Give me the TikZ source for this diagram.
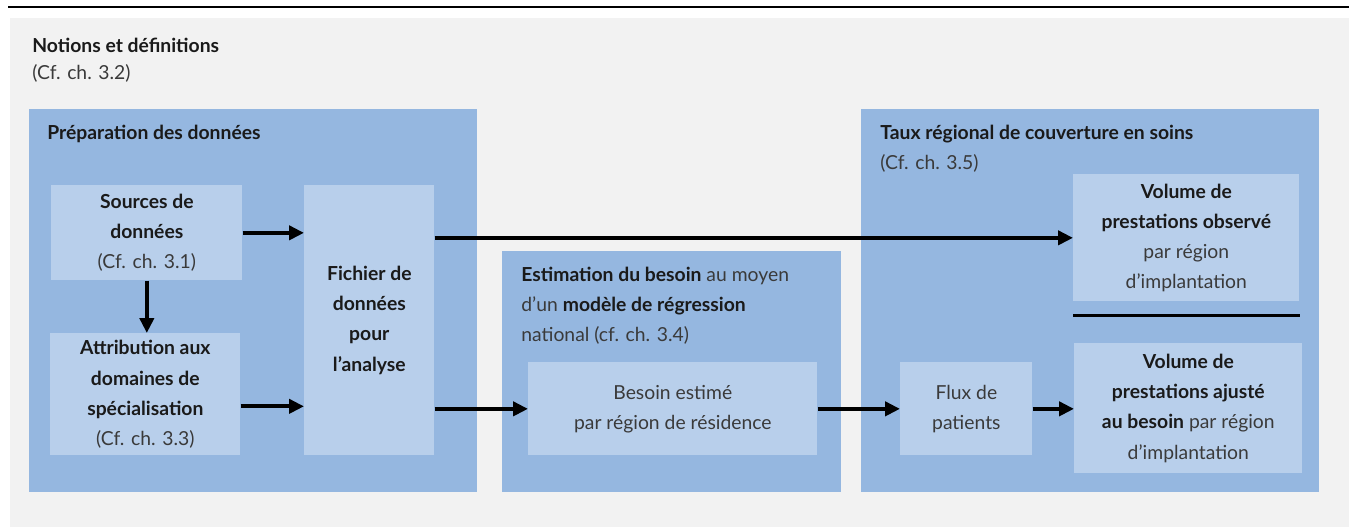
\documentclass[tikz,border=0pt]{standalone}
\usepackage{fontspec}
\setmainfont{Lato}
\usepackage{xcolor}
\usetikzlibrary{arrows.meta}

\definecolor{fondgris}{HTML}{F2F2F2}
\definecolor{bleufonce}{HTML}{95B7E0}
\definecolor{bleuclair}{HTML}{B8CFEB}
\definecolor{texte}{HTML}{1A1A1A}
\definecolor{texteleger}{HTML}{3A3A3A}

\tikzset{
  groupe/.style={fill=bleufonce, anchor=north west, inner sep=0pt},
  boite/.style={fill=bleuclair, anchor=north west, inner sep=2pt, align=center,
    text=texte, font=\fontsize{11}{17.2}\selectfont},
  titre/.style={anchor=west, inner sep=0pt, text=texte, align=left,
    font=\fontsize{11}{17.2}\selectfont},
  fleche/.style={line width=2.2pt, -{Triangle[length=8.5pt,width=8pt]}}
}

\newcommand{\leger}[1]{{\color{texteleger}#1}}

\begin{document}
\begin{tikzpicture}[x=0.02cm, y=-0.02cm]

  \useasboundingbox (0,0) rectangle (1349,527);

  % grey background and top rule
  \fill[fondgris] (10,18) rectangle (1349,527);
  \draw[line width=1.7pt] (8,7) -- (1349,7);

  % Notions et definitions
  \node[titre] (notions) at (32,45) {\textbf{Notions et définitions}};
  \node[titre] (notionsref) at (32,73) {\leger{(Cf. ch. 3.2)}};

  % the three groups
  \node[groupe, minimum width=8.96cm, minimum height=7.66cm] (prep) at (29,109) {};
  \node[groupe, minimum width=6.78cm, minimum height=4.82cm] (estim) at (502,251) {};
  \node[groupe, minimum width=9.16cm, minimum height=7.66cm] (taux) at (861,109) {};

  \node[titre] (preptitre) at (47,134) {\textbf{Préparation des données}};
  \node[titre] (estimtitre) at (521,306) {\textbf{Estimation du besoin} \leger{au moyen}\\
    \leger{d’un} \textbf{modèle de régression}\\ \leger{national (cf. ch. 3.4)}};
  \node[titre] (tauxtitre) at (880,134) {\textbf{Taux régional de couverture en soins}};
  \node[titre] (tauxref) at (880,163) {\leger{(Cf. ch. 3.5)}};

  % boxes
  \node[boite, minimum width=3.82cm, minimum height=1.9cm] (sources) at (51,185)
    {\textbf{Sources de}\\ \textbf{données}\\ \leger{(Cf. ch. 3.1)}};
  \node[boite, minimum width=3.8cm, minimum height=2.44cm] (attrib) at (50,333)
    {\textbf{Attribution aux}\\ \textbf{domaines de}\\ \textbf{spécialisation}\\ \leger{(Cf. ch. 3.3)}};
  \node[boite, minimum width=2.6cm, minimum height=5.4cm] (fichier) at (304,185)
    {\textbf{Fichier de}\\ \textbf{données}\\ \textbf{pour}\\ \textbf{l’analyse}};
  \node[boite, minimum width=5.78cm, minimum height=1.86cm] (besoin) at (528,362)
    {\leger{Besoin estimé}\\ \leger{par région de résidence}};
  \node[boite, minimum width=2.64cm, minimum height=1.86cm] (flux) at (900,362)
    {\leger{Flux de}\\ \leger{patients}};
  \node[boite, minimum width=4.52cm, minimum height=2.54cm] (observe) at (1073,174)
    {\textbf{Volume de}\\ \textbf{prestations observé}\\ \leger{par région}\\ \leger{d’implantation}};
  \node[boite, minimum width=4.56cm, minimum height=2.6cm] (ajuste) at (1074,343)
    {\textbf{Volume de}\\ \textbf{prestations ajusté}\\ \textbf{au besoin} \leger{par région}\\ \leger{d’implantation}};

  % ratio line
  \draw[line width=1.7pt] ([yshift=-0.28cm]observe.south west) -- ([yshift=-0.28cm]observe.south east);

  % arrows
  \draw[fleche] (sources.east) -- (sources.east -| fichier.west);
  \draw[fleche] ([yshift=-0.24cm]attrib.east) -- ([yshift=-0.24cm]attrib.east -| fichier.west);
  \draw[fleche] (sources.south) -- (sources.south |- attrib.north);
  \draw[fleche] (fichier.east |- observe.west) -- (observe.west);
  \draw[fleche] (fichier.east |- besoin.west) -- (besoin.west);
  \draw[fleche] (besoin.east) -- (flux.west);
  \draw[fleche] (flux.east) -- (flux.east -| ajuste.west);

\end{tikzpicture}
\end{document}
